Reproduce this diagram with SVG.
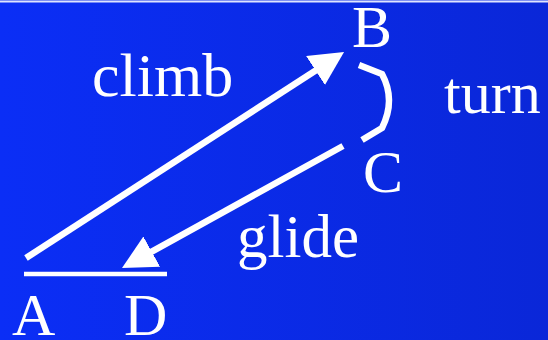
<svg xmlns="http://www.w3.org/2000/svg" width="548" height="340" viewBox="0 0 548 340">
  <defs>
    <linearGradient id="bg" x1="0" y1="0" x2="1" y2="0">
      <stop offset="0" stop-color="#0b2ef6"/>
      <stop offset="1" stop-color="#0a27d8"/>
    </linearGradient>
    <marker id="head" viewBox="0 -17.3 34 34.6" markerWidth="34" markerHeight="34.6" refX="2" refY="0" orient="auto" markerUnits="userSpaceOnUse">
      <path d="M0,-17.3 L34,0 L0,17.3 Z" fill="#ffffff"/>
    </marker>
    <style>
      .lbl { font-family: "Liberation Serif", "Times New Roman", serif; font-size: 60px; fill: #ffffff; }
      .ln { stroke: #ffffff; fill: none; stroke-width: 6.5; }
    </style>
  </defs>
  <rect x="0" y="0" width="548" height="340" fill="url(#bg)"/>
  <rect x="0" y="0" width="548" height="1" fill="#7f90f2"/>
  <rect x="0" y="1" width="548" height="1.5" fill="#dfe5ff"/>

  <g id="connectors">
    <line id="climb-line" class="ln" x1="26" y1="258" x2="317.2" y2="69.4" marker-end="url(#head)"/>
    <line id="glide-line" class="ln" x1="343" y1="146" x2="150" y2="252.6" marker-end="url(#head)"/>
    <path id="turn-line" class="ln" d="M359,65 L382,74 Q396,100 382,128 L362,140"/>
    <line id="ground-line" class="ln" style="stroke-width:4.5" x1="24" y1="274" x2="167" y2="274"/>
  </g>

  <g id="node-A"><text class="lbl" x="12" y="335">A</text></g>
  <g id="node-B"><text class="lbl" x="352" y="47">B</text></g>
  <g id="node-C"><text class="lbl" x="363" y="192">C</text></g>
  <g id="node-D"><text class="lbl" x="124" y="335">D</text></g>
  <g id="label-climb"><text class="lbl" x="92" y="96" style="font-size:62px">climb</text></g>
  <g id="label-turn"><text class="lbl" x="444" y="113">turn</text></g>
  <g id="label-glide"><text class="lbl" x="237" y="257" style="font-size:61px">glide</text></g>
</svg>
